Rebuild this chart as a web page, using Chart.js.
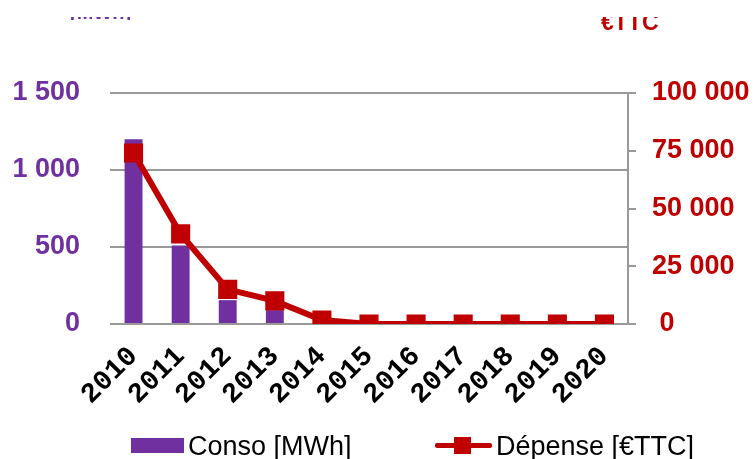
<!DOCTYPE html>
<html>
<head>
<meta charset="utf-8">
<script src="https://cdn.jsdelivr.net/npm/chart.js@4"></script>
<style>
html,body{margin:0;padding:0;background:#fff;}
#wrap{position:relative;width:754px;height:459px;overflow:hidden;}
canvas{position:absolute;left:0;top:0;}
.leg{position:absolute;font-family:"Liberation Sans",Arial,sans-serif;font-size:27px;color:#000;line-height:1;white-space:nowrap;}
</style>
</head>
<body>
<div id="wrap">
<canvas id="c" width="754" height="459"></canvas>
<div style="position:absolute;left:131px;top:438px;width:53px;height:15px;background:#7030A0;"></div>
<div class="leg" style="left:188px;top:433px;">Conso [MWh]</div>
<div style="position:absolute;left:435px;top:443px;width:57px;height:5px;background:#C00000;border-radius:2px;"></div>
<div style="position:absolute;left:454px;top:437px;width:17px;height:17px;background:#C00000;"></div>
<div class="leg" style="left:496px;top:433px;">Dépense [€TTC]</div>
</div>
<script>
const years = ['2010','2011','2012','2013','2014','2015','2016','2017','2018','2019','2020'];
const conso = [1200, 510, 155, 90, 0, 0, 0, 0, 0, 0, 0];
const depense = [74000, 39000, 15000, 10000, 1700, 0, 0, 0, 0, 0, 0];
const leftTicks = [0, 500, 1000, 1500];
const rightTicks = [0, 25000, 50000, 75000, 100000];

const PURPLE = '#7030A0';
const RED = '#C00000';
const GRID = '#999999';

function fmt(v){
  return String(v).replace(/\B(?=(\d{3})+(?!\d))/g, ' ');
}

const topTitles = {
  id: 'topTitles',
  afterDraw(chart){
    const ctx = chart.ctx;
    ctx.save();
    ctx.beginPath();
    ctx.rect(0, 17, 754, 3);
    ctx.clip();
    ctx.fillStyle = PURPLE;
    ctx.font = 'bold 20px "Liberation Sans", Arial, sans-serif';
    ctx.textBaseline = 'alphabetic';
    ctx.fillText('[MWh]', 70, 19);
    ctx.restore();
    ctx.save();
    ctx.beginPath();
    ctx.rect(0, 17, 754, 40);
    ctx.clip();
    ctx.fillStyle = RED;
    ctx.font = 'bold 23px "Liberation Sans", Arial, sans-serif';
    ctx.fillText('€TTC', 601, 30);
    ctx.restore();
  }
};

new Chart(document.getElementById('c'), {
  data: {
    labels: years,
    datasets: [
      {
        type: 'line',
        label: 'Dépense [€TTC]',
        data: depense,
        yAxisID: 'y2',
        borderColor: RED,
        backgroundColor: RED,
        borderWidth: 6,
        pointStyle: 'rect',
        pointRadius: 13.5,
        pointBorderWidth: 0,
        pointBackgroundColor: RED,
        tension: 0,
        order: 0
      },
      {
        type: 'bar',
        label: 'Conso [MWh]',
        data: conso,
        yAxisID: 'y',
        backgroundColor: PURPLE,
        borderWidth: 0,
        barPercentage: 0.38,
        categoryPercentage: 1,
        order: 1
      }
    ]
  },
  options: {
    responsive: false,
    animation: false,
    devicePixelRatio: 1,
    layout: { padding: { top: 93, left: 0, right: 0, bottom: 0 } },
    plugins: { legend: { display: false }, tooltip: { enabled: false } },
    scales: {
      x: {
        offset: true,
        grid: { display: false, drawTicks: false },
        border: { display: false },
        ticks: {
          color: '#000',
          font: { family: '"Liberation Mono", monospace', size: 28, weight: 'bold' },
          maxRotation: 45, minRotation: 45,
          padding: 16,
          autoSkip: false
        },
        afterFit(s){ s.height = 459 - 93 - 231; }
      },
      y: {
        position: 'left',
        min: 0, max: 1500,
        afterBuildTicks(s){ s.ticks = leftTicks.map(v => ({value: v})); },
        grid: { color: GRID, lineWidth: 2, drawTicks: false },
        border: { display: false },
        ticks: {
          color: PURPLE,
          font: { family: '"Liberation Sans", Arial, sans-serif', size: 27, weight: 'bold' },
          padding: 30,
          callback: v => fmt(v)
        },
        afterFit(s){ s.width = 110; }
      },
      y2: {
        position: 'right',
        min: 0, max: 100000,
        afterBuildTicks(s){ s.ticks = rightTicks.map(v => ({value: v})); },
        grid: { drawOnChartArea: false, color: GRID, lineWidth: 2, tickLength: 8 },
        border: { display: true, color: GRID, width: 2 },
        ticks: {
          color: RED,
          font: { family: '"Liberation Sans", Arial, sans-serif', size: 27, weight: 'bold' },
          padding: 16,
          callback: v => v === 0 ? ' 0' : fmt(v)
        },
        afterFit(s){ s.width = 754 - 628; }
      }
    }
  },
  plugins: [topTitles]
});
</script>
</body>
</html>
